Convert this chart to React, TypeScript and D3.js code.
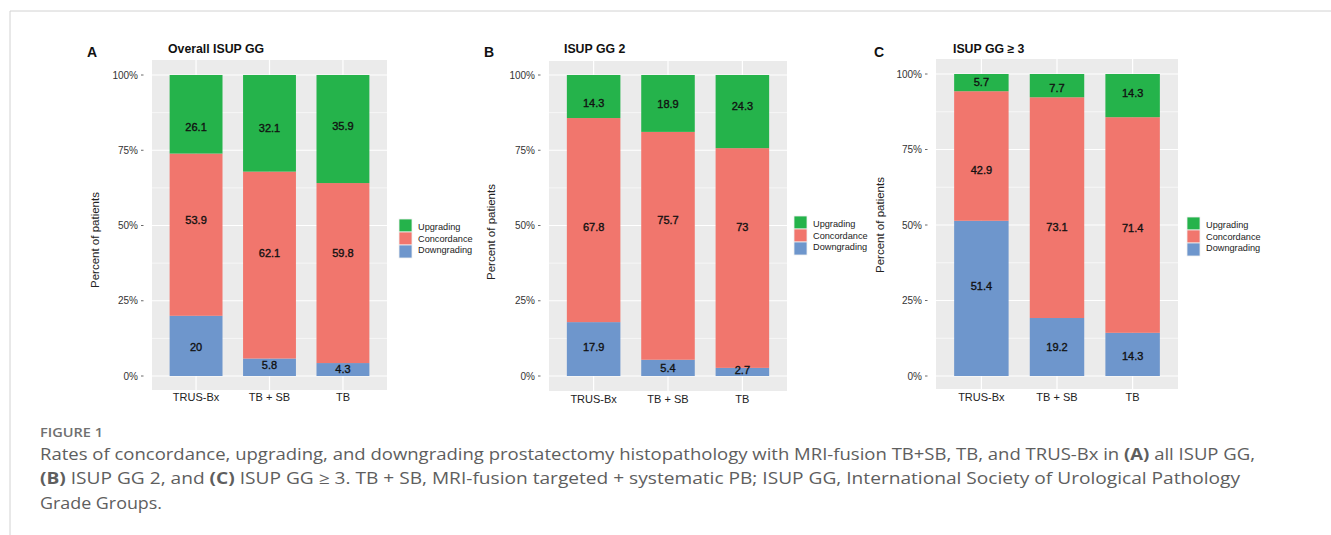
import React, { useEffect } from "react";
import * as d3 from "d3";

// ---------------- DATA ----------------
const categories = ["TRUS-Bx", "TB + SB", "TB"];
const seriesNames = ["Upgrading", "Concordance", "Downgrading"];
const panelLetters = ["A", "B", "C"];
const panelTitles = ["Overall ISUP GG", "ISUP GG 2", "ISUP GG \u2265 3"];

const downgradingA = [20, 5.8, 4.3];
const concordanceA = [53.9, 62.1, 59.8];
const upgradingA = [26.1, 32.1, 35.9];

const downgradingB = [17.9, 5.4, 2.7];
const concordanceB = [67.8, 75.7, 73];
const upgradingB = [14.3, 18.9, 24.3];

const downgradingC = [51.4, 19.2, 14.3];
const concordanceC = [42.9, 73.1, 71.4];
const upgradingC = [5.7, 7.7, 14.3];

// label centre positions (percent units)
const labelPosDownA = [9.6, 3.6, 2.3];
const labelPosConcA = [51.7, 40.7, 40.7];
const labelPosUpA = [82.8, 82.5, 83.2];
const labelPosDownB = [9.6, 2.7, 2.0];
const labelPosConcB = [49.5, 51.9, 49.5];
const labelPosUpB = [90.7, 90.4, 89.7];
const labelPosDownC = [29.8, 9.7, 6.7];
const labelPosConcC = [68.2, 49.3, 49.0];
const labelPosUpC = [97.3, 95.4, 93.7];

const yTicks = [0, 25, 50, 75, 100];
const yTickLabels = ["0%", "25%", "50%", "75%", "100%"];
const yMinorTicks = [12.5, 37.5, 62.5, 87.5];

const captionHead = "FIGURE 1";

// ---------------- STYLE / LAYOUT ----------------
const colors: Record<string, string> = {
  Upgrading: "#25b34b",
  Concordance: "#f1766d",
  Downgrading: "#6e96cc",
};

const panelLayout = [
  { left: 152, right: 387, top: 60, bottom: 390, y0: 376, y100: 75, letterX: 87, titleX: 168, yTitleX: 95, yTitleY: 240, legendX: 399, legendY: 219, xLabY: 401 },
  { left: 549, right: 787, top: 61, bottom: 391, y0: 376, y100: 75, letterX: 484, titleX: 564, yTitleX: 491, yTitleY: 232, legendX: 794, legendY: 216, xLabY: 403 },
  { left: 936, right: 1178, top: 59, bottom: 389, y0: 376, y100: 74, letterX: 874, titleX: 953, yTitleX: 880, yTitleY: 225, legendX: 1187, legendY: 217, xLabY: 401 },
];

const panelData = [
  { down: downgradingA, conc: concordanceA, up: upgradingA, lDown: labelPosDownA, lConc: labelPosConcA, lUp: labelPosUpA },
  { down: downgradingB, conc: concordanceB, up: upgradingB, lDown: labelPosDownB, lConc: labelPosConcB, lUp: labelPosUpB },
  { down: downgradingC, conc: concordanceC, up: upgradingC, lDown: labelPosDownC, lConc: labelPosConcC, lUp: labelPosUpC },
];

const FONT = "'Liberation Sans', Arial, Helvetica, sans-serif";
const CAPFONT = "'Open Sans', 'Noto Sans', sans-serif";

function Panel({ idx }: { idx: number }) {
  const L = panelLayout[idx];
  const D = panelData[idx];
  const x = d3.scalePoint<string>().domain(categories).range([L.left, L.right]).padding(0.6);
  const step = x.step();
  const bw = step * 0.72;
  const y = d3.scaleLinear().domain([0, 100]).range([L.y0, L.y100]);

  const stacks = categories.map((c, i) => {
    const rows = [
      { name: "Downgrading", v: D.down[i], lp: D.lDown[i] },
      { name: "Concordance", v: D.conc[i], lp: D.lConc[i] },
      { name: "Upgrading", v: D.up[i], lp: D.lUp[i] },
    ];
    let acc = 0;
    return rows.map((r) => {
      const y0 = acc;
      acc += r.v;
      return { ...r, cat: c, y0, y1: acc };
    });
  });

  return (
    <g>
      <rect x={L.left} y={L.top} width={L.right - L.left} height={L.bottom - L.top} fill="#ebebeb" />
      {yMinorTicks.map((t) => (
        <line key={"mi" + t} x1={L.left} x2={L.right} y1={y(t)} y2={y(t)} stroke="#fff" strokeWidth={0.6} />
      ))}
      {yTicks.map((t) => (
        <line key={"ma" + t} x1={L.left} x2={L.right} y1={y(t)} y2={y(t)} stroke="#fff" strokeWidth={1.2} />
      ))}
      {categories.map((c) => (
        <line key={"v" + c} x1={x(c)!} x2={x(c)!} y1={L.top} y2={L.bottom} stroke="#fff" strokeWidth={1.2} />
      ))}
      {stacks.flat().map((s, k) => (
        <rect
          key={"b" + k}
          x={x(s.cat)! - bw / 2}
          y={y(s.y1)}
          width={bw}
          height={y(s.y0) - y(s.y1)}
          fill={colors[s.name]}
        />
      ))}
      {stacks.flat().map((s, k) => (
        <text
          key={"l" + k}
          x={x(s.cat)!}
          y={y(s.lp)}
          dy="0.36em"
          textAnchor="middle"
          fontFamily={FONT}
          fontSize={11}
          fill="#111"
          stroke="#111"
          strokeWidth={0.35}
        >
          {String(s.v)}
        </text>
      ))}
      {yTicks.map((t, i) => (
        <g key={"yt" + t}>
          <text x={L.left - 14} y={y(t)} dy="0.36em" textAnchor="end" fontFamily={FONT} fontSize={10} fill="#333">
            {yTickLabels[i]}
          </text>
          <line x1={L.left - 11} x2={L.left - 8.5} y1={y(t)} y2={y(t)} stroke="#444" strokeWidth={0.8} />
        </g>
      ))}
      {categories.map((c) => (
        <text key={"xl" + c} x={x(c)!} y={L.xLabY} textAnchor="middle" fontFamily={FONT} fontSize={11} fill="#222">
          {c}
        </text>
      ))}
      <text
        transform={`translate(${L.yTitleX + 4},${L.yTitleY}) rotate(-90)`}
        textAnchor="middle"
        fontFamily={FONT}
        fontSize={11.5}
        fill="#222"
      >
        Percent of patients
      </text>
      <text x={L.letterX} y={56.5} fontFamily={FONT} fontSize={14} fontWeight="bold" fill="#111">
        {panelLetters[idx]}
      </text>
      <text x={L.titleX} y={53} fontFamily={FONT} fontSize={12.3} fontWeight="bold" fill="#111">
        {panelTitles[idx]}
      </text>
      {seriesNames.map((n, i) => (
        <g key={"lg" + n}>
          <rect x={L.legendX} y={L.legendY + i * 13} width={13} height={13} fill={colors[n]} stroke="#f0f0f0" strokeWidth={0.8} />
          <text
            x={L.legendX + 19}
            y={L.legendY + 8 + i * 11.5}
            dy="0.36em"
            fontFamily={FONT}
            fontSize={9.2}
            fill="#222"
          >
            {n}
          </text>
        </g>
      ))}
    </g>
  );
}

export default function App() {
  useEffect(() => {
    document.body.style.margin = "0";
  }, []);
  const capColor = "#5e5e5e";
  return (
    <svg width={1331} height={535} style={{ display: "block", background: "#fff" }}>
      <line x1={10} x2={1331} y1={11} y2={11} stroke="#d2d2d2" strokeWidth={1} />
      <line x1={10} x2={10} y1={11} y2={535} stroke="#d2d2d2" strokeWidth={1} />
      {[0, 1, 2].map((i) => (
        <Panel key={i} idx={i} />
      ))}
      <text x={40} y={436.5} fontFamily={CAPFONT} fontSize={13} fontWeight={600} fill="#707070" textLength={63} lengthAdjust="spacingAndGlyphs">
        {captionHead}
      </text>
      <text x={40} y={459.5} fontFamily={CAPFONT} fontSize={16} fill={capColor} textLength={1215} lengthAdjust="spacingAndGlyphs">
        Rates of concordance, upgrading, and downgrading prostatectomy histopathology with MRI-fusion TB+SB, TB, and TRUS-Bx in{" "}
        <tspan fontWeight="bold">(A)</tspan> all ISUP GG,
      </text>
      <text x={40} y={484} fontFamily={CAPFONT} fontSize={16} fill={capColor} textLength={1200} lengthAdjust="spacingAndGlyphs">
        <tspan fontWeight="bold">(B)</tspan> ISUP GG 2, and <tspan fontWeight="bold">(C)</tspan> ISUP GG {"\u2265"} 3. TB + SB, MRI-fusion
        targeted + systematic PB; ISUP GG, International Society of Urological Pathology
      </text>
      <text x={40} y={508.5} fontFamily={CAPFONT} fontSize={16} fill={capColor} textLength={122} lengthAdjust="spacingAndGlyphs">
        Grade Groups.
      </text>
    </svg>
  );
}
